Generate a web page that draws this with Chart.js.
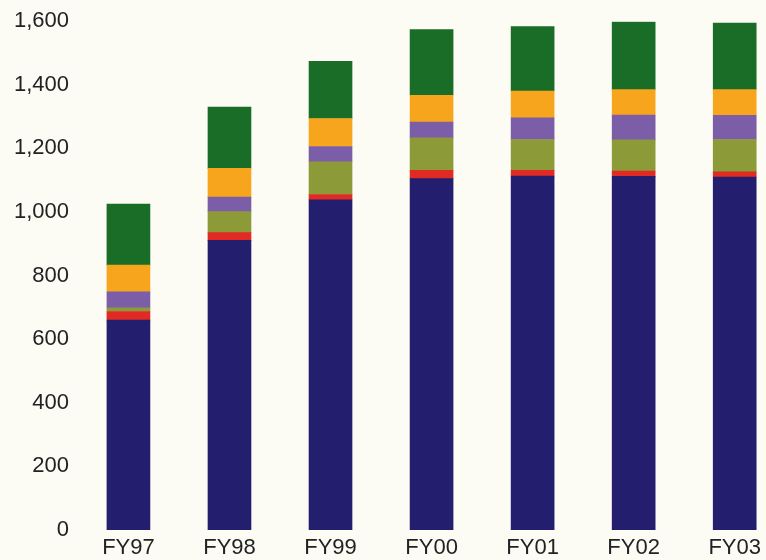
<!DOCTYPE html>
<html>
<head>
<meta charset="utf-8">
<script src="https://cdn.jsdelivr.net/npm/chart.js@4/dist/chart.umd.min.js"></script>
<style>
  html, body { margin: 0; padding: 0; background: #fcfcf5; }
  #wrap { width: 766px; height: 560px; position: relative; }
</style>
</head>
<body>
<div id="wrap"><canvas id="chart"></canvas></div>
<script>
const years = ["FY97", "FY98", "FY99", "FY00", "FY01", "FY02", "FY03"]

// stacked from the bottom up
const navy   = [660, 911, 1038, 1105, 1113, 1112, 1110]
const red    = [27, 24, 17, 26, 18, 17, 16]
const olive  = [12, 66, 103, 102, 97, 98, 102]
const purple = [50, 46, 48, 50, 68, 78, 76]
const orange = [84, 90, 88, 84, 84, 80, 81]
const green  = [192, 193, 180, 207, 203, 212, 209]

const yTicks = [0, 200, 400, 600, 800, 1000, 1200, 1400, 1600]

const series = [
  { values: navy,   color: "#231f6e" },
  { values: red,    color: "#e02a23" },
  { values: olive,  color: "#8c9b38" },
  { values: purple, color: "#7b5ea7" },
  { values: orange, color: "#f8a51e" },
  { values: green,  color: "#1a6d27" }
]

const font = { family: "'Liberation Sans', Arial, sans-serif", size: 22 }

new Chart(document.getElementById("chart"), {
  type: "bar",
  data: {
    datasets: series.map(s => ({
      data: s.values.map((v, i) => ({ x: i, y: v })),
      backgroundColor: s.color,
      borderWidth: 0,
      barThickness: 43
    }))
  },
  options: {
    responsive: true,
    maintainAspectRatio: false,
    animation: false,
    layout: { padding: { top: 20, right: 0, left: 0, bottom: 0 } },
    plugins: { legend: { display: false }, tooltip: { enabled: false } },
    scales: {
      x: {
        type: "linear",
        stacked: true,
        offset: false,
        min: -0.509,
        max: 6.307,
        grid: { display: false, drawTicks: false },
        border: { display: false },
        afterBuildTicks: (scale) => { scale.ticks = years.map((_, i) => ({ value: i })) },
        afterFit: (scale) => { scale.height = 30 },
        ticks: {
          font,
          color: "#222",
          padding: 5,
          maxRotation: 0,
          autoSkip: false,
          callback: (v) => years[v] ?? ""
        }
      },
      y: {
        stacked: true,
        min: 0,
        max: 1600,
        grid: { display: false, drawTicks: false },
        border: { display: false },
        afterBuildTicks: (scale) => { scale.ticks = yTicks.map(v => ({ value: v })) },
        afterFit: (scale) => { scale.width = 77 },
        ticks: {
          font,
          color: "#222",
          padding: 8,
          callback: (v) => v.toLocaleString("en-US")
        }
      }
    }
  }
})
</script>
</body>
</html>
